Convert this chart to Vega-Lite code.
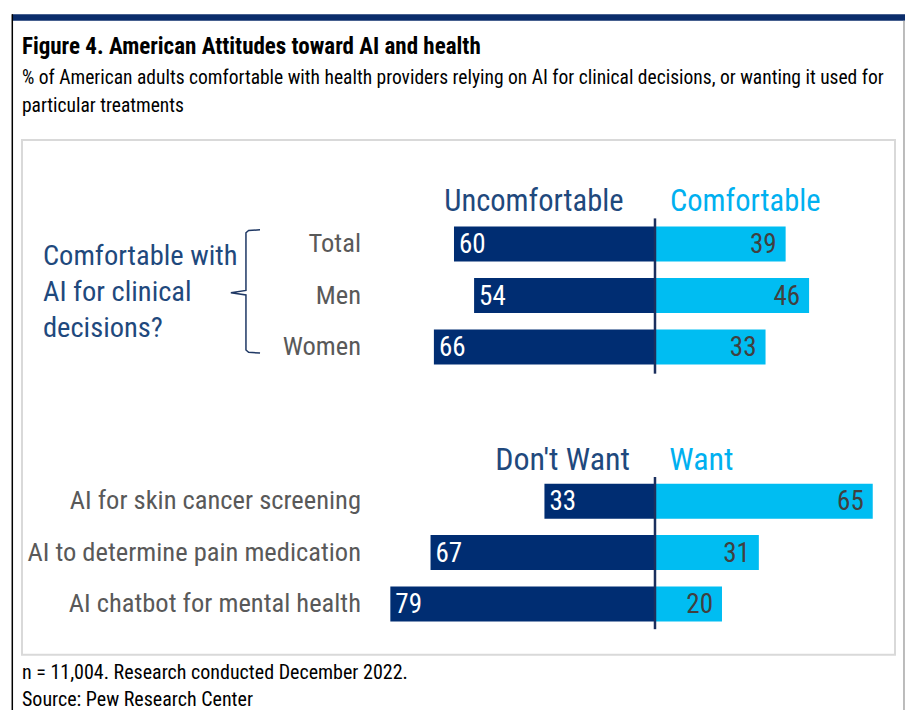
{
  "$schema": "https://vega.github.io/schema/vega-lite/v6.json",
  "width": 905,
  "height": 715,
  "padding": 0,
  "autosize": {"type": "none"},
  "background": "#FFFFFF",
  "config": {
    "view": {"stroke": null},
    "font": "Roboto Condensed",
    "text": {"font": "Roboto Condensed"},
    "axis": {"disable": true},
    "legend": {"disable": true}
  },
  "datasets": {
    "bars": [
      {"item": "Total", "row": 1, "neg": 60, "pos": 39},
      {"item": "Men", "row": 2, "neg": 54, "pos": 46},
      {"item": "Women", "row": 3, "neg": 66, "pos": 33},
      {"item": "AI for skin cancer screening", "row": 6, "neg": 33, "pos": 65},
      {"item": "AI to determine pain medication", "row": 7, "neg": 67, "pos": 31},
      {"item": "AI chatbot for mental health", "row": 8, "neg": 79, "pos": 20}
    ],
    "brace": [
      {"o": 1, "bx": -117.9, "by": 0.722},
      {"o": 2, "bx": -121.3, "by": 0.735},
      {"o": 3, "bx": -122.1, "by": 0.78},
      {"o": 4, "bx": -122.1, "by": 1.90},
      {"o": 5, "bx": -126.6, "by": 1.944},
      {"o": 6, "bx": -122.1, "by": 1.99},
      {"o": 7, "bx": -122.1, "by": 3.06},
      {"o": 8, "bx": -121.3, "by": 3.105},
      {"o": 9, "bx": -117.9, "by": 3.119}
    ]
  },
  "data": {"values": [{}]},
  "resolve": {"scale": {"x": "independent"}},
  "layer": [
    {
      "data": {"name": "bars"},
      "layer": [
        {
          "mark": {"type": "bar", "orient": "horizontal", "size": 35, "color": "#002D72"},
          "encoding": {
            "x": {"field": "neg", "type": "quantitative", "scale": {"domain": [-74.63, 195.52], "reverse": true, "nice": false, "zero": false}, "axis": null},
            "x2": {"datum": 0},
            "y": {"field": "row", "type": "quantitative", "scale": {"domain": [-3.651, 10.062], "reverse": true, "nice": false, "zero": false}, "axis": null}
          }
        },
        {
          "mark": {"type": "text", "align": "left", "baseline": "middle", "dx": 5, "dy": 1, "fontSize": 27, "color": "#FFFFFF"},
          "encoding": {
            "x": {"field": "neg", "type": "quantitative", "scale": {"domain": [-74.63, 195.52], "reverse": true, "nice": false, "zero": false}, "axis": null},
            "y": {"field": "row", "type": "quantitative", "scale": {"domain": [-3.651, 10.062], "reverse": true, "nice": false, "zero": false}, "axis": null},
            "text": {"field": "neg", "type": "quantitative"}
          }
        }
      ]
    },
    {
      "layer": [
        {
          "mark": {"type": "rect", "color": "#0B2D6B"},
          "encoding": {
            "x": {"datum": -191.94, "scale": {"domain": [-195.52, 74.63], "nice": false, "zero": false}, "axis": null},
            "x2": {"datum": 74.63},
            "y": {"datum": -3.473, "scale": {"domain": [-3.651, 10.062], "reverse": true, "nice": false, "zero": false}, "axis": null},
            "y2": {"datum": -3.344}
          }
        },
        {
          "mark": {"type": "rule", "color": "#000000", "strokeWidth": 1.5},
          "encoding": {
            "x": {"datum": -191.85, "scale": {"domain": [-195.52, 74.63], "nice": false, "zero": false}, "axis": null},
            "y": {"datum": -3.473, "scale": {"domain": [-3.651, 10.062], "reverse": true, "nice": false, "zero": false}, "axis": null},
            "y2": {"datum": 10.062}
          }
        },
        {
          "mark": {"type": "rule", "color": "#A6A6A6", "strokeWidth": 1.5},
          "encoding": {
            "x": {"datum": 74.33, "scale": {"domain": [-195.52, 74.63], "nice": false, "zero": false}, "axis": null},
            "y": {"datum": -3.344, "scale": {"domain": [-3.651, 10.062], "reverse": true, "nice": false, "zero": false}, "axis": null},
            "y2": {"datum": 10.062}
          }
        },
        {
          "mark": {"type": "rect", "fill": null, "fillOpacity": 0, "stroke": "#D9D9D9", "strokeWidth": 2},
          "encoding": {
            "x": {"datum": -188.96, "scale": {"domain": [-195.52, 74.63], "nice": false, "zero": false}, "axis": null},
            "x2": {"datum": 71.64},
            "y": {"datum": -1.023, "scale": {"domain": [-3.651, 10.062], "reverse": true, "nice": false, "zero": false}, "axis": null},
            "y2": {"datum": 8.988}
          }
        },
        {
          "data": {"name": "bars"},
          "mark": {"type": "bar", "orient": "horizontal", "size": 35, "color": "#00BDF2"},
          "encoding": {
            "x": {"field": "pos", "type": "quantitative", "scale": {"domain": [-195.52, 74.63], "nice": false, "zero": false}, "axis": null},
            "x2": {"datum": 0},
            "y": {"field": "row", "type": "quantitative", "scale": {"domain": [-3.651, 10.062], "reverse": true, "nice": false, "zero": false}, "axis": null}
          }
        },
        {
          "data": {"name": "bars"},
          "mark": {"type": "text", "align": "right", "baseline": "middle", "dx": -9, "dy": 1, "fontSize": 27, "color": "#404040"},
          "encoding": {
            "x": {"field": "pos", "type": "quantitative", "scale": {"domain": [-195.52, 74.63], "nice": false, "zero": false}, "axis": null},
            "y": {"field": "row", "type": "quantitative", "scale": {"domain": [-3.651, 10.062], "reverse": true, "nice": false, "zero": false}, "axis": null},
            "text": {"field": "pos", "type": "quantitative"}
          }
        },
        {
          "data": {"name": "bars"},
          "mark": {"type": "text", "align": "right", "baseline": "middle", "fontSize": 26.5, "color": "#595959"},
          "encoding": {
            "x": {"datum": -87.76, "scale": {"domain": [-195.52, 74.63], "nice": false, "zero": false}, "axis": null},
            "y": {"field": "row", "type": "quantitative", "scale": {"domain": [-3.651, 10.062], "reverse": true, "nice": false, "zero": false}, "axis": null},
            "text": {"field": "item", "type": "nominal"}
          }
        },
        {
          "mark": {"type": "rule", "color": "#1B2F5E", "strokeWidth": 2.5},
          "encoding": {
            "x": {"datum": 0, "scale": {"domain": [-195.52, 74.63], "nice": false, "zero": false}, "axis": null},
            "y": {"datum": 0.5, "scale": {"domain": [-3.651, 10.062], "reverse": true, "nice": false, "zero": false}, "axis": null},
            "y2": {"datum": 3.52}
          }
        },
        {
          "mark": {"type": "rule", "color": "#1B2F5E", "strokeWidth": 2.5},
          "encoding": {
            "x": {"datum": 0, "scale": {"domain": [-195.52, 74.63], "nice": false, "zero": false}, "axis": null},
            "y": {"datum": 5.53, "scale": {"domain": [-3.651, 10.062], "reverse": true, "nice": false, "zero": false}, "axis": null},
            "y2": {"datum": 8.49}
          }
        },
        {
          "mark": {"type": "text", "text": "Uncomfortable", "align": "right", "baseline": "alphabetic", "fontSize": 30.5, "color": "#1F497D"},
          "encoding": {
            "x": {"datum": -9.4, "scale": {"domain": [-195.52, 74.63], "nice": false, "zero": false}, "axis": null},
            "y": {"datum": 0.357, "scale": {"domain": [-3.651, 10.062], "reverse": true, "nice": false, "zero": false}, "axis": null}
          }
        },
        {
          "mark": {"type": "text", "text": "Comfortable", "align": "left", "baseline": "alphabetic", "fontSize": 30.5, "color": "#00B0F0"},
          "encoding": {
            "x": {"datum": 4.48, "scale": {"domain": [-195.52, 74.63], "nice": false, "zero": false}, "axis": null},
            "y": {"datum": 0.357, "scale": {"domain": [-3.651, 10.062], "reverse": true, "nice": false, "zero": false}, "axis": null}
          }
        },
        {
          "mark": {"type": "text", "text": "Don't Want", "align": "right", "baseline": "alphabetic", "fontSize": 32, "color": "#1F497D"},
          "encoding": {
            "x": {"datum": -7.46, "scale": {"domain": [-195.52, 74.63], "nice": false, "zero": false}, "axis": null},
            "y": {"datum": 5.396, "scale": {"domain": [-3.651, 10.062], "reverse": true, "nice": false, "zero": false}, "axis": null}
          }
        },
        {
          "mark": {"type": "text", "text": "Want", "align": "left", "baseline": "alphabetic", "fontSize": 32, "color": "#00B0F0"},
          "encoding": {
            "x": {"datum": 4.27, "scale": {"domain": [-195.52, 74.63], "nice": false, "zero": false}, "axis": null},
            "y": {"datum": 5.396, "scale": {"domain": [-3.651, 10.062], "reverse": true, "nice": false, "zero": false}, "axis": null}
          }
        },
        {
          "mark": {"type": "text", "text": ["Comfortable with", "AI for clinical", "decisions?"], "align": "left", "baseline": "alphabetic", "fontSize": 28.5, "lineHeight": 36, "color": "#1F497D"},
          "encoding": {
            "x": {"datum": -182.7, "scale": {"domain": [-195.52, 74.63], "nice": false, "zero": false}, "axis": null},
            "y": {"datum": 1.399, "scale": {"domain": [-3.651, 10.062], "reverse": true, "nice": false, "zero": false}, "axis": null}
          }
        },
        {
          "data": {"name": "brace"},
          "mark": {"type": "line", "color": "#1F3864", "strokeWidth": 1.5, "interpolate": "linear"},
          "encoding": {
            "x": {"field": "bx", "type": "quantitative", "scale": {"domain": [-195.52, 74.63], "nice": false, "zero": false}, "axis": null},
            "y": {"field": "by", "type": "quantitative", "scale": {"domain": [-3.651, 10.062], "reverse": true, "nice": false, "zero": false}, "axis": null},
            "order": {"field": "o", "type": "quantitative"}
          }
        },
        {
          "mark": {"type": "text", "text": "Figure 4. American Attitudes toward AI and health", "align": "left", "baseline": "alphabetic", "fontSize": 23, "fontWeight": "bold", "color": "#000000"},
          "encoding": {
            "x": {"datum": -188.96, "scale": {"domain": [-195.52, 74.63], "nice": false, "zero": false}, "axis": null},
            "y": {"datum": -2.692, "scale": {"domain": [-3.651, 10.062], "reverse": true, "nice": false, "zero": false}, "axis": null}
          }
        },
        {
          "mark": {"type": "text", "text": ["% of American adults comfortable with health providers relying on AI for clinical decisions, or wanting it used for", "particular treatments"], "align": "left", "baseline": "alphabetic", "fontSize": 19.5, "lineHeight": 28, "color": "#000000"},
          "encoding": {
            "x": {"datum": -188.96, "scale": {"domain": [-195.52, 74.63], "nice": false, "zero": false}, "axis": null},
            "y": {"datum": -2.117, "scale": {"domain": [-3.651, 10.062], "reverse": true, "nice": false, "zero": false}, "axis": null}
          }
        },
        {
          "mark": {"type": "text", "text": ["n = 11,004. Research conducted December 2022.", "Source: Pew Research Center"], "align": "left", "baseline": "alphabetic", "fontSize": 20, "lineHeight": 27, "color": "#000000"},
          "encoding": {
            "x": {"datum": -188.96, "scale": {"domain": [-195.52, 74.63], "nice": false, "zero": false}, "axis": null},
            "y": {"datum": 9.468, "scale": {"domain": [-3.651, 10.062], "reverse": true, "nice": false, "zero": false}, "axis": null}
          }
        }
      ]
    }
  ]
}
